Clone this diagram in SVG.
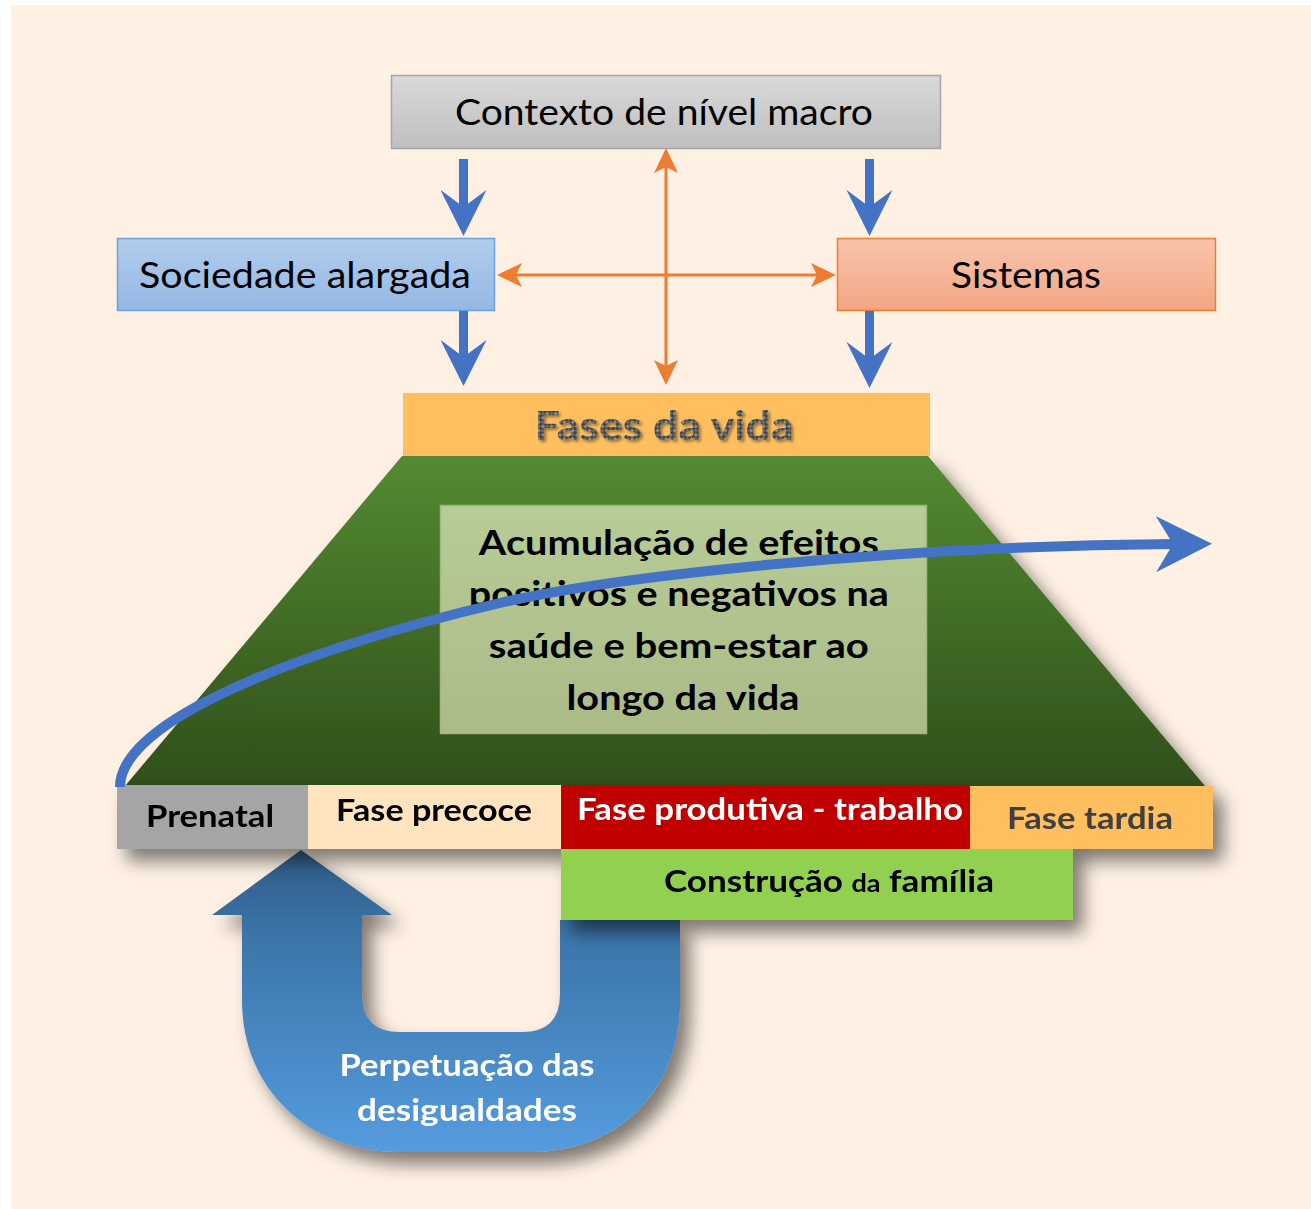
<svg xmlns="http://www.w3.org/2000/svg" width="1311" height="1209" viewBox="0 0 1311 1209">
<defs>
<style>
.t{font-family:Lato,"Liberation Sans",sans-serif;text-anchor:middle;}
.b{font-weight:bold;}
.blue{stroke:#4472c4;fill:none;}
.orange{stroke:#ed7d31;stroke-width:3;fill:none;}
</style>
<linearGradient id="gGray" x1="0" y1="0" x2="0" y2="1"><stop offset="0" stop-color="#d9d9d9"/><stop offset="1" stop-color="#bfbfbf"/></linearGradient>
<linearGradient id="gBlue" x1="0" y1="0" x2="0" y2="1"><stop offset="0" stop-color="#b2cdec"/><stop offset="1" stop-color="#94b7e4"/></linearGradient>
<linearGradient id="gSalmon" x1="0" y1="0" x2="0" y2="1"><stop offset="0" stop-color="#f8c4ac"/><stop offset="1" stop-color="#f4a683"/></linearGradient>
<linearGradient id="gGreen" x1="0" y1="0" x2="0" y2="1"><stop offset="0" stop-color="#548a32"/><stop offset="1" stop-color="#2f4f1a"/></linearGradient>
<linearGradient id="gInner" x1="0" y1="0" x2="0" y2="1"><stop offset="0" stop-color="#b7cc96"/><stop offset="1" stop-color="#abbb88"/></linearGradient>
<linearGradient id="gU" x1="0" y1="0" x2="0" y2="1"><stop offset="0" stop-color="#2f5a84"/><stop offset="0.3" stop-color="#3c76ab"/><stop offset="1" stop-color="#559cde"/></linearGradient>
<pattern id="carbon" width="6" height="6" patternUnits="userSpaceOnUse" patternTransform="rotate(45)">
<rect width="6" height="6" fill="#444"/><rect width="3" height="3" fill="#8a8a8a"/><rect x="3" y="3" width="3" height="3" fill="#6a6a6a"/>
</pattern>
<filter id="shadow" x="-20%" y="-20%" width="150%" height="160%">
<feGaussianBlur in="SourceAlpha" stdDeviation="9"/>
<feOffset dx="10" dy="12" result="o"/>
<feComponentTransfer><feFuncA type="linear" slope="0.5"/></feComponentTransfer>
<feMerge><feMergeNode/><feMergeNode in="SourceGraphic"/></feMerge>
</filter>
<filter id="tshadow" x="-10%" y="-20%" width="120%" height="150%">
<feGaussianBlur in="SourceAlpha" stdDeviation="1.5"/>
<feOffset dx="2" dy="2"/>
<feComponentTransfer><feFuncA type="linear" slope="0.4"/></feComponentTransfer>
<feMerge><feMergeNode/><feMergeNode in="SourceGraphic"/></feMerge>
</filter>
<marker id="mBlue" markerUnits="userSpaceOnUse" markerWidth="46" markerHeight="46" viewBox="0 0 46 46" refX="17" refY="23" orient="auto">
<path d="M46,23 L0,0 L17,23 L0,46 Z" fill="#4472c4"/>
</marker>
<marker id="mBig" markerUnits="userSpaceOnUse" markerWidth="56" markerHeight="56" viewBox="0 0 56 56" refX="17" refY="28" orient="auto">
<path d="M56,28 L0,0 L17,28 L0,56 Z" fill="#4472c4"/>
</marker>
<marker id="mOrange" markerUnits="userSpaceOnUse" markerWidth="25" markerHeight="24" viewBox="0 0 25 24" refX="6" refY="12" orient="auto-start-reverse">
<path d="M25,12 L0,0 L6,12 L0,24 Z" fill="#ed7d31"/>
</marker>
</defs>

<rect width="1311" height="1209" fill="#ffffff"/>
<rect x="11" y="5" width="1300" height="1204" fill="#fef0e3"/>

<g id="contexto">
<rect x="391.5" y="75.5" width="549" height="73" fill="url(#gGray)" stroke="#a6a6a6" stroke-width="1.5"/>
<text class="t" x="664" y="125" font-size="36" textLength="418" lengthAdjust="spacingAndGlyphs">Contexto de nível macro</text>
</g>

<g id="sociedade">
<rect x="117.5" y="238.5" width="377" height="72" fill="url(#gBlue)" stroke="#6fa0dc" stroke-width="1.5"/>
<text class="t" x="305" y="288" font-size="36" textLength="332" lengthAdjust="spacingAndGlyphs">Sociedade alargada</text>
</g>

<g id="sistemas">
<rect x="837.5" y="238.5" width="378" height="72" fill="url(#gSalmon)" stroke="#ed7d31" stroke-width="1.5"/>
<text class="t" x="1026" y="288" font-size="36" textLength="150" lengthAdjust="spacingAndGlyphs">Sistemas</text>
</g>

<g id="trapezio" filter="url(#shadow)">
<polygon points="402,456 928,456 1205,786 125,786" fill="url(#gGreen)"/>
</g>

<g id="fases-da-vida">
<rect x="403" y="393" width="527" height="63" fill="#ffbf5f"/>
<text class="t b" x="664" y="440" font-size="40" textLength="259" lengthAdjust="spacingAndGlyphs" fill="url(#carbon)" filter="url(#tshadow)">Fases da vida</text>
</g>

<g id="acumulacao">
<rect x="440.5" y="505.5" width="486" height="228" fill="url(#gInner)" stroke="#a0b880" stroke-width="1.5"/>
<text class="t b" font-size="34" fill="#000">
<tspan x="683" y="555" textLength="400" lengthAdjust="spacingAndGlyphs">Acumulação de efeitos</tspan>
<tspan x="683" y="606" textLength="420" lengthAdjust="spacingAndGlyphs">positivos e negativos na</tspan>
<tspan x="683" y="658" textLength="380" lengthAdjust="spacingAndGlyphs">saúde e bem-estar ao</tspan>
<tspan x="683" y="710" textLength="233" lengthAdjust="spacingAndGlyphs">longo da vida</tspan>
</text>
</g>

<g id="perpetuacao" filter="url(#shadow)">
<path d="M301,850 L392,915 L362,915 L362,994 Q362,1032 400,1032 L522,1032 Q560,1032 560,994 L560,920 L680,920 L680,1000 C680,1090 620,1152 530,1152 L400,1152 C310,1152 242,1090 242,1000 L242,915 L212,915 Z" fill="url(#gU)"/>
<text class="t b" font-size="31" fill="#ffffff" x="467" y="1076" textLength="255" lengthAdjust="spacingAndGlyphs">Perpetuação das</text>
<text class="t b" font-size="31" fill="#ffffff" x="467" y="1121" textLength="220" lengthAdjust="spacingAndGlyphs">desigualdades</text>
</g>

<g id="fases" filter="url(#shadow)">
<g id="prenatal">
<rect x="117" y="785" width="191" height="64" fill="#a5a5a5"/>
<text class="t b" x="210" y="827" font-size="31" textLength="128" lengthAdjust="spacingAndGlyphs">Prenatal</text>
</g>
<g id="fase-precoce">
<rect x="308" y="785" width="253" height="64" fill="#ffe4bf"/>
<text class="t b" x="434" y="821" font-size="31" textLength="196" lengthAdjust="spacingAndGlyphs">Fase precoce</text>
</g>
<g id="fase-produtiva">
<rect x="561" y="785" width="409" height="64" fill="#c00000"/>
<text class="t b" x="770" y="820" font-size="31" fill="#ffffff" textLength="386" lengthAdjust="spacingAndGlyphs">Fase produtiva - trabalho</text>
</g>
<g id="fase-tardia">
<rect x="970" y="786" width="243" height="63" fill="#ffbf5f"/>
<text class="t b" x="1090" y="829" font-size="31" fill="#404040" textLength="166" lengthAdjust="spacingAndGlyphs">Fase tardia</text>
</g>
<g id="familia">
<rect x="561" y="849" width="512" height="71" fill="#92d050"/>
<text class="t b" x="829" y="892" font-size="31" textLength="330" lengthAdjust="spacingAndGlyphs">Construção <tspan font-size="24">da</tspan> família</text>
</g>
</g>

<g id="connectors">
<line class="blue" x1="463.5" y1="159" x2="463.5" y2="207" stroke-width="9" marker-end="url(#mBlue)"/>
<line class="blue" x1="463.5" y1="311" x2="463.5" y2="357" stroke-width="9" marker-end="url(#mBlue)"/>
<line class="blue" x1="869.5" y1="159" x2="869.5" y2="207" stroke-width="9" marker-end="url(#mBlue)"/>
<line class="blue" x1="869.5" y1="311" x2="869.5" y2="359" stroke-width="9" marker-end="url(#mBlue)"/>
<line class="orange" x1="666" y1="167" x2="666" y2="366" marker-start="url(#mOrange)" marker-end="url(#mOrange)"/>
<line class="orange" x1="516" y1="275" x2="817" y2="275" marker-start="url(#mOrange)" marker-end="url(#mOrange)"/>
<path class="blue" d="M120,787 C120,720 300,650 500,603 C620,575 900,546 1173,544" stroke-width="10" marker-end="url(#mBig)"/>
</g>
</svg>
